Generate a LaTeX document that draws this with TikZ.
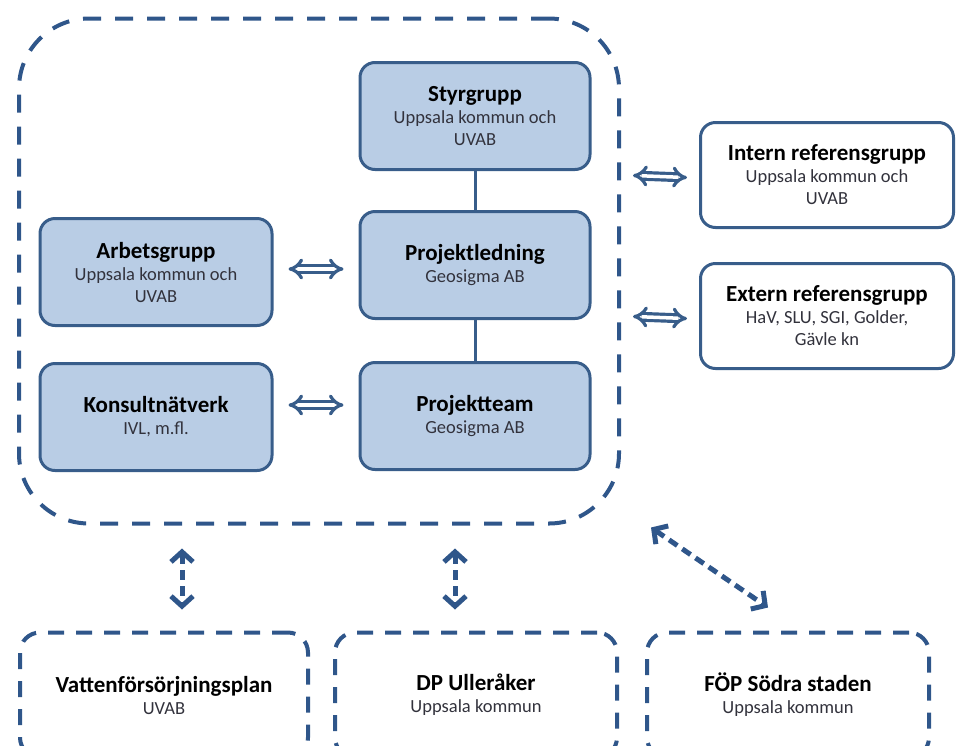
\documentclass[tikz,border=0pt]{standalone}
\usepackage{fontspec}
\setmainfont{Carlito}
\usepackage{tikz}
\usetikzlibrary{arrows.meta}
\definecolor{boxline}{RGB}{56,93,138}
\definecolor{boxfill}{RGB}{185,205,229}
\definecolor{dashline}{RGB}{47,86,138}
\definecolor{subtext}{RGB}{50,50,60}
\newcommand{\ttl}[1]{{\fontsize{23}{25}\selectfont\bfseries\color{black} #1}}
\tikzstyle{bluebox} = [rectangle, rounded corners=15pt, minimum width=230pt, minimum height=107pt, draw=boxline, line width=3pt, fill=boxfill, align=center, text=subtext, font=\fontsize{18.5}{22}\selectfont]
\tikzstyle{whitebox} = [rectangle, rounded corners=15pt, minimum width=253pt, minimum height=105pt, draw=boxline, line width=3pt, fill=white, align=center, text=subtext, font=\fontsize{18.5}{22}\selectfont]
\tikzstyle{dashbox} = [rectangle, rounded corners=20pt, minimum width=282pt, minimum height=125pt, draw=dashline, line width=4pt, dash pattern=on 16pt off 12pt, align=center, text=subtext, font=\fontsize{18.5}{22}\selectfont]
\tikzstyle{frame} = [rectangle, rounded corners=70pt, minimum width=600pt, minimum height=505pt, draw=dashline, line width=4pt, dash pattern=on 18pt off 14pt]
\tikzstyle{line} = [draw=boxline, line width=3pt]
\tikzstyle{dblarrow} = [draw=boxline, double=white, line width=3.2pt, double distance=3.5pt, {Implies}-{Implies}, shorten <=12pt, shorten >=12pt]
\tikzstyle{dasharrow} = [draw=dashline, line width=5pt, dash pattern=on 10pt off 6pt, {Straight Barb[length=10pt,width=22pt]}-{Straight Barb[length=10pt,width=22pt]}]

\begin{document}
\begin{tikzpicture}[x=1pt, y=-1pt, node distance=150pt]
      \clip (0,0) rectangle (957,745);
      \node (frame) [frame] at (319,271) {};
      \node (styr) [bluebox] at (475,116) {\ttl{Styrgrupp}\\Uppsala kommun och\\UVAB};
      \node (pled) [bluebox, below of=styr, yshift=1pt] {\ttl{Projektledning}\\Geosigma AB};
      \node (pteam) [bluebox, below of=pled, yshift=-1pt] {\ttl{Projektteam}\\Geosigma AB};
      \node (arb) [bluebox, minimum width=232pt] at (156,272) {\ttl{Arbetsgrupp}\\Uppsala kommun och\\UVAB};
      \node (kons) [bluebox, minimum width=232pt, below of=arb, yshift=5pt] {\ttl{Konsultnätverk}\\IVL, m.fl.};
      \node (intern) [whitebox] at (827,175) {\ttl{Intern referensgrupp}\\Uppsala kommun och\\UVAB};
      \node (extern) [whitebox, below of=intern, yshift=9pt] {\ttl{Extern referensgrupp}\\HaV, SLU, SGI, Golder,\\Gävle kn};
      \node (vatten) [dashbox, minimum width=288pt] at (164,695) {\ttl{Vattenförsörjningsplan}\\UVAB};
      \node (dp) [dashbox] at (476,695) {\ttl{DP Ulleråker}\\Uppsala kommun};
      \node (fop) [dashbox] at (788,695) {\ttl{FÖP Södra staden}\\Uppsala kommun};
      \coordinate (a1) at (182,0);
      \coordinate (a2) at (455,0);
      \draw [line] (styr) -- (pled);
      \draw [line] (pled) -- (pteam);
      \draw [dblarrow, shorten <=15pt, shorten >=15pt] (arb.east |- 0,269) -- (pled.west |- 0,269);
      \draw [dblarrow, shorten <=15pt, shorten >=15pt] ([yshift=12pt]kons.east) -- ([yshift=12pt]kons.east -| pteam.west);
      \draw [dblarrow] (frame.east |- intern) -- ([yshift=-3pt]intern.west);
      \draw [dblarrow] (frame.east |- extern) -- ([yshift=-3pt]extern.west);
      \draw [dasharrow, shorten <=23pt, shorten >=21pt] (frame.south -| a1) -- (vatten.north -| a1);
      \draw [dasharrow, shorten <=23pt, shorten >=21pt] (frame.south -| a2) -- (dp.north -| a2);
      \draw [dasharrow] ([xshift=30pt,yshift=-2pt]frame.south east) -- ([xshift=-20pt,yshift=23pt]fop.north);
\end{tikzpicture}
\end{document}
